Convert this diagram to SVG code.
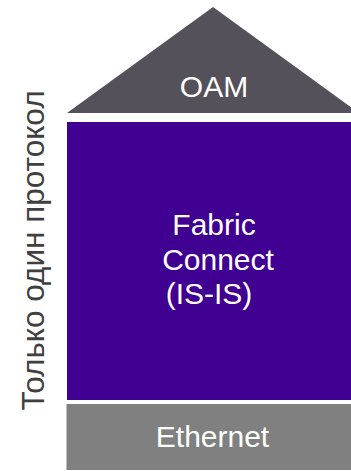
<svg xmlns="http://www.w3.org/2000/svg" width="351" height="471" viewBox="0 0 351 471">
<style>
text{font-family:"Liberation Sans",Arial,sans-serif;font-size:30px;fill:#ffffff}
.side{fill:#404040;font-size:31.5px}
</style>
<rect width="351" height="471" fill="#ffffff"/>
<g id="oam">
<polygon points="67,113 213,7 359,113" fill="#54515b"/>
<text x="214" y="97" text-anchor="middle">OAM</text>
</g>
<g id="fabric">
<rect x="67" y="122" width="284" height="278" fill="#400091"/>
<text x="214" y="235" text-anchor="middle">Fabric</text>
<text x="218" y="270" text-anchor="middle">Connect</text>
<text x="209" y="304" text-anchor="middle">(IS-IS)</text>
</g>
<g id="ethernet">
<rect x="66.5" y="404" width="284.5" height="66" fill="#808080"/>
<text x="212.5" y="447" text-anchor="middle">Ethernet</text>
</g>
<g id="label">
<text class="side" transform="translate(44,250.5) rotate(-90)" text-anchor="middle">Только один протокол</text>
</g>
<g id="connectors"></g>
</svg>
